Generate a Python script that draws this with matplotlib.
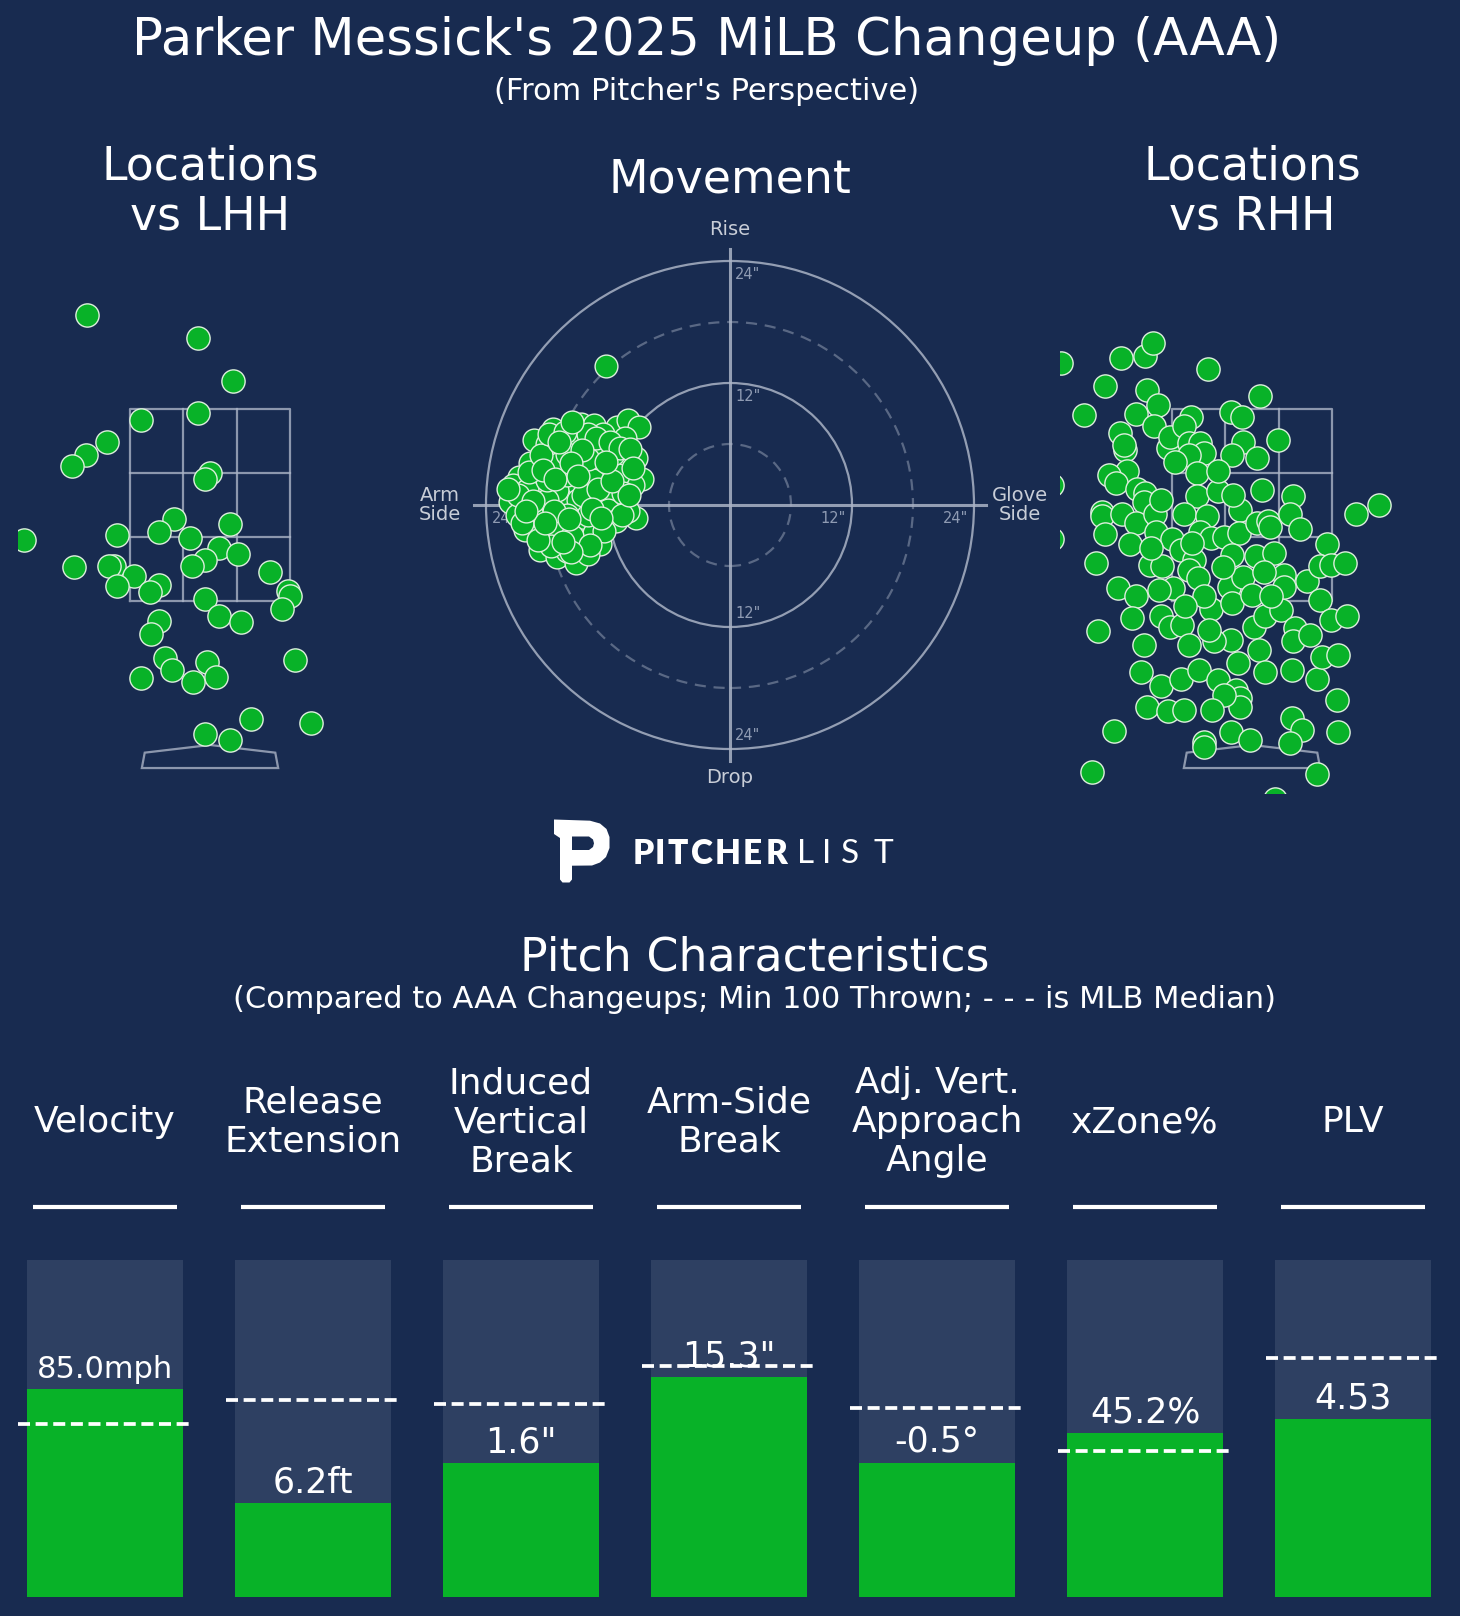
import matplotlib
matplotlib.use("Agg")
import matplotlib.pyplot as plt
from matplotlib.patches import Circle, Polygon

# ---------------- data ----------------
title = "Parker Messick's 2025 MiLB Changeup (AAA)"
subtitle = "(From Pitcher's Perspective)"

# pitch locations vs LHH (plate_x ft, plate_z ft)
lhh_x = [-1.28, -0.12, 0.24, -0.12, -0.72, -1.07, -1.29, -1.44, 0.00, -0.05,
         -1.94, -0.97, -0.38, -0.53, -0.21, 0.21, 0.09, 0.29, -0.05, -0.19,
         -1.42, -1.00, -1.05, -0.79, -0.97, -0.53, -0.62, 0.62, -0.05, 0.81,
         0.83, 0.75, 0.09, 0.32, -0.53, -0.61, -0.47, -0.40, -0.03, 0.06,
         -0.18, -0.72, 0.89, 0.43, 1.05, -0.05, 0.21]
lhh_z = [4.48, 4.24, 3.79, 3.46, 3.38, 3.15, 3.02, 2.90, 2.83, 2.77,
         2.13, 2.19, 2.35, 2.22, 2.16, 2.30, 2.05, 1.99, 1.93, 1.86,
         1.85, 1.86, 1.86, 1.76, 1.66, 1.67, 1.59, 1.80, 1.52, 1.60,
         1.55, 1.42, 1.34, 1.28, 1.29, 1.16, 0.91, 0.78, 0.86, 0.71,
         0.66, 0.70, 0.89, 0.27, 0.23, 0.11, 0.05]

# pitch locations vs RHH
rhh_x = [-1.99, -1.36, -1.11, -1.03, -0.46, -1.53, -1.09, -0.98, -1.75, -1.21,
         -1.02, 0.08, -0.22, -0.10, -0.64, -1.37, -1.32, -1.33, -0.87, -0.85,
         -0.71, -0.66, -0.54, -0.50, -0.66, -0.57, -0.09, -0.21, 0.05, 0.27,
         -1.30, -1.49, -1.42, -1.20, -1.11, -1.13, -1.56, -1.56, -1.35, -1.53,
         -1.21, -1.01, -1.00, -1.27, -1.63, -0.57, -0.35, -0.71, -0.47, -0.54,
         -0.43, -0.29, -0.12, -0.14, 0.05, 0.17, 0.19, 0.43, 0.40, 1.08,
         1.32, -0.83, -0.74, -0.60, -0.21, 0.04, 0.23, 0.33, 0.57, 0.78,
         0.71, 0.82, 0.97, -1.06, -0.94, -0.82, -0.66, -0.56, -0.97, -1.40,
         -1.21, -1.25, -0.95, -0.85, -0.73, -0.66, -0.43, -0.24, -0.21, -0.09,
         0.00, -0.22, -0.40, -0.45, 0.02, 0.07, 0.14, 0.30, 0.33, 0.45,
         0.43, 0.71, 0.82, 0.99, -1.60, -1.12, -1.16, -0.95, -0.74, -0.55,
         -0.35, -0.17, -0.12, -0.12, -0.29, 0.14, 0.42, 0.68, 0.73, 0.90,
         0.89, -1.09, -0.87, -0.71, -0.42, -0.22, -0.02, -0.50, -0.50, 0.42,
         0.52, 0.40, 0.90, -1.44, -1.67, 0.68, 0.24, -2.08, -2.08,
         -0.80, -0.35, -0.20, 0.10, -0.95, -0.62, -0.30, 0.12, 0.50, -1.05,
         -0.50, 0.20, -0.70, 0.60, -0.15]
rhh_z = [3.98, 4.03, 4.05, 4.19, 3.92, 3.74, 3.70, 3.54, 3.44, 3.45,
         3.32, 3.63, 3.47, 3.42, 3.42, 3.25, 3.07, 3.12, 3.09, 3.21,
         3.32, 3.14, 3.14, 3.04, 3.02, 2.83, 3.16, 3.02, 2.99, 3.18,
         2.85, 2.81, 2.73, 2.67, 2.62, 2.53, 2.43, 2.38, 2.41, 2.20,
         2.31, 2.41, 2.22, 2.09, 1.89, 2.59, 2.64, 2.40, 2.38, 2.22,
         2.15, 2.17, 2.45, 2.21, 2.31, 2.33, 2.27, 2.59, 2.40, 2.41,
         2.50, 2.14, 2.03, 1.93, 1.98, 1.97, 2.00, 1.77, 1.71, 2.09,
         1.86, 1.87, 1.89, 1.87, 1.86, 1.63, 1.82, 1.74, 1.61, 1.63,
         1.55, 1.32, 1.34, 1.23, 1.25, 1.04, 1.42, 1.65, 1.48, 1.75,
         1.56, 1.09, 1.08, 1.20, 1.23, 0.99, 1.34, 1.41, 1.65, 1.22,
         1.08, 1.51, 1.30, 1.34, 1.19, 1.04, 0.76, 0.61, 0.69, 0.78,
         0.68, 0.57, 0.49, 0.40, 0.52, 0.76, 0.78, 0.69, 0.92, 0.94,
         0.47, 0.40, 0.35, 0.36, 0.36, 0.14, 0.05, 0.03, -0.02, 0.28,
         0.16, 0.02, 0.13, 0.15, -0.28, -0.30, -0.56, 2.71, 2.14,
         2.95, 2.85, 2.60, 2.65, 2.55, 2.10, 1.85, 1.80, 2.25, 2.05,
         1.55, 1.55, 1.45, 1.15, 0.85]

# movement (horizontal break in, negative = arm side; induced vertical break in)
mov_hb = [-17.4, -14.7, -13.4, -11.1, -10.0, -9.0, -19.3, -10.3, -15.1, -12.6,
          -16.6, -17.9, -19.7, -9.2, -16.4, -12.8, -10.5, -14.7, -8.7, -20.8,
          -21.3, -9.5, -14.9, -12.8, -16.7, -19.0, -21.6, -20.0, -13.8, -11.1,
          -10.2, -9.2, -18.5, -15.2, -20.2, -13.1, -18.0, -16.6, -14.7, -12.8,
          -18.7, -17.0, -15.1, -13.4, -17.7, -12.2,
          -19.0, -17.0, -16.0, -15.0, -14.0, -16.0, -18.0, -12.0, -11.0, -13.0,
          -15.0, -17.0, -19.0, -16.0, -14.0, -12.0, -20.0, -21.0, -18.0, -13.5,
          -11.5, -10.5, -17.5, -15.5, -14.0, -16.0, -18.0, -12.5, -14.0, -19.5,
          -20.5, -19.8, -18.6, -17.8, -16.2, -15.5, -13.2, -11.8, -10.8, -9.8,
          -9.5, -10.0, -11.2, -12.4, -13.8, -15.6, -17.6, -18.9, -20.9, -21.8,
          -19.4, -17.3, -15.8, -14.5, -13.0, -11.6, -12.2, -14.6, -16.8, -18.4,
          -17.2, -15.6, -13.6, -16.4, -18.2, -20.1, -15.0, -10.6, -9.9, -12.7]
mov_ivb = [7.5, 8.0, 7.9, 7.7, 8.4, 7.7, 6.4, 6.6, 5.7, 6.1,
           5.7, 4.8, 4.1, 4.6, 3.9, 3.8, 3.4, 3.8, 2.6, 2.8,
           2.0, 2.0, 1.7, 1.8, 0.7, 1.3, 0.3, 0.0, 0.2, -0.2,
           0.5, -1.3, -0.8, -2.0, -2.5, -2.0, -3.1, -2.8, -3.4, -3.8,
           -4.4, -5.1, -5.7, -2.8, -1.5, 13.7,
           2.0, 1.5, 3.0, 0.5, -1.0, -1.0, 0.5, 1.0, 3.0, 5.0,
           6.5, 4.0, -2.0, -4.5, -4.8, -0.5, 1.5, -1.0, 2.5, 2.5,
           5.0, 1.2, -2.2, -3.0, 4.5, 5.0, 6.0, 7.0, 7.0, -1.0,
           -1.8, 3.2, 4.9, 7.0, 7.2, 8.2, 6.6, 6.2, 5.6, 5.5,
           3.6, -0.6, -1.6, -2.6, -3.9, -4.6, -4.0, -3.4, 1.0, 1.6,
           0.4, -0.6, -1.4, 1.0, 1.6, 2.4, 4.2, 5.4, 6.2, 3.4,
           2.6, 4.1, -0.4, -3.6, -1.8, -0.6, 2.9, -1.0, 1.0, -1.3]

# pitch characteristics
metric_names = ["Velocity", "Release\nExtension", "Induced\nVertical\nBreak",
                "Arm-Side\nBreak", "Adj. Vert.\nApproach\nAngle", "xZone%", "PLV"]
metric_labels = ["85.0mph", "6.2ft", "1.6\"", "15.3\"", "-0.5°", "45.2%", "4.53"]
metric_pct = [0.617, 0.279, 0.398, 0.653, 0.399, 0.487, 0.528]
median_pct = [0.513, 0.585, 0.573, 0.685, 0.561, 0.434, 0.710]

# ---------------- style ----------------
BG = "#182b50"
BARBG = "#2e4062"
GREEN = "#08b228"
EDGE = "#dcefdc"
LINE = "#aab3c5"
LABEL = "#c8cdd7"
TICK = "#8f9bb3"

W, H = 1460, 1616
fig = plt.figure(figsize=(W / 100, H / 100), dpi=100, facecolor=BG)


def px_axes(x0, y0, x1, y1):
    ax = fig.add_axes([x0 / W, 1 - y1 / H, (x1 - x0) / W, (y1 - y0) / H])
    ax.set_facecolor("none")
    ax.axis("off")
    return ax


fig.text(707 / W, 1 - 41 / H, title, ha="center", va="center", color="white", fontsize=37)
fig.text(707 / W, 1 - 91 / H, subtitle, ha="center", va="center", color="white", fontsize=22)


def draw_zone(ax):
    zx = [-0.83, 0.83, 0.83, -0.83, -0.83]
    zz = [1.5, 1.5, 3.5, 3.5, 1.5]
    ax.plot(zx, zz, color=LINE, lw=1.6, alpha=0.8, zorder=1)
    for gx in (-0.277, 0.277):
        ax.plot([gx, gx], [1.5, 3.5], color=LINE, lw=1.6, alpha=0.8, zorder=1)
    for gz in (2.167, 2.833):
        ax.plot([-0.83, 0.83], [gz, gz], color=LINE, lw=1.6, alpha=0.8, zorder=1)
    plate = Polygon([(-0.71, -0.24), (0.71, -0.24), (0.68, -0.08), (0.0, 0.0), (-0.68, -0.08)],
                    closed=True, fill=False, ec=LINE, lw=1.6, alpha=0.8, zorder=1)
    ax.add_patch(plate)


for (x0, px, pz, lab) in [(18, lhh_x, lhh_z, "Locations\nvs LHH"),
                          (1060, rhh_x, rhh_z, "Locations\nvs RHH")]:
    ax = px_axes(x0, 284, x0 + 384, 793)
    ax.set_xlim(-2, 2)
    ax.set_ylim(-0.5, 4.8)
    draw_zone(ax)
    ax.scatter(px, pz, s=280, color=GREEN, edgecolors=EDGE, linewidths=1.0, zorder=3)
    fig.text((x0 + 192) / W, 1 - 192 / H, lab, ha="center", va="center",
             color="white", fontsize=33, linespacing=1.17)

# movement plot
axm = px_axes(425, 200, 1035, 810)
axm.set_xlim(-30, 30)
axm.set_ylim(-30, 30)
for r, ls in [(6, "--"), (12, "-"), (18, "--"), (24, "-")]:
    if ls == "-":
        c = Circle((0, 0), r, fill=False, ec=LINE, lw=1.6, alpha=0.85, zorder=1)
    else:
        c = Circle((0, 0), r, fill=False, ec=LINE, lw=1.6, alpha=0.45, ls=(0, (5, 3.5)), zorder=1)
    axm.add_patch(c)
axm.plot([-25.2, 25.2], [0, 0], color=LINE, lw=2.2, alpha=0.85, zorder=1)
axm.plot([0, 0], [-25.2, 25.2], color=LINE, lw=2.2, alpha=0.85, zorder=1)
for r in (12, 24):
    lab = f'{r}"'
    axm.text(0.5, r - 0.6, lab, ha="left", va="top", color=TICK, fontsize=10.5, zorder=2)
    axm.text(0.5, -r + 0.6, lab, ha="left", va="bottom", color=TICK, fontsize=10.5, zorder=2)
    axm.text(r - 0.6, -0.6, lab, ha="right", va="top", color=TICK, fontsize=10.5, zorder=2)
    axm.text(-r + 0.6, -0.6, lab, ha="left", va="top", color=TICK, fontsize=10.5, zorder=2)
axm.text(0, 27.1, "Rise", ha="center", va="center", color=LABEL, fontsize=14)
axm.text(0, -26.8, "Drop", ha="center", va="center", color=LABEL, fontsize=14)
axm.text(-28.5, 0, "Arm\nSide", ha="center", va="center", color=LABEL, fontsize=14, linespacing=1.0)
axm.text(28.5, 0, "Glove\nSide", ha="center", va="center", color=LABEL, fontsize=14, linespacing=1.0)
axm.scatter(mov_hb, mov_ivb, s=270, color=GREEN, edgecolors=EDGE, linewidths=1.0, zorder=3)
fig.text(730 / W, 1 - 180 / H, "Movement", ha="center", va="center", color="white", fontsize=33)

# logo
axl = px_axes(540, 805, 920, 895)
axl.set_xlim(540, 920)
axl.set_ylim(895, 805)
outer = [(554, 819.5), (590, 820.7), (600, 823.5), (606.5, 829), (609.5, 837), (609.5, 848),
         (606, 857), (600, 862.5), (592, 865.5), (572, 865.7), (572, 879.5), (569.5, 882.5),
         (562.5, 882.5), (560, 879.5), (560, 838), (554, 834)]
axl.add_patch(Polygon(outer, closed=True, fc="white", ec="none"))
counter = [(572, 836.5), (589, 836.5), (593, 839.5), (594, 843.3), (593, 847), (589, 850), (572, 850)]
axl.add_patch(Polygon(counter, closed=True, fc=BG, ec="none"))
for ch, cx in zip("PITCHER", [643, 660, 678, 702, 728, 752, 777]):
    axl.text(cx, 854, ch, ha="center", va="center", color="white", fontsize=24,
             family="Lato", fontweight="heavy")
for ch, cx in zip("LIST", [806, 827, 850, 883]):
    axl.text(cx, 854, ch, ha="center", va="center", color="white", fontsize=24,
             family="Lato", fontweight="normal")

# pitch characteristics
fig.text(755 / W, 1 - 958 / H, "Pitch Characteristics", ha="center", va="center",
         color="white", fontsize=33)
fig.text(755 / W, 1 - 1000 / H,
         "(Compared to AAA Changeups; Min 100 Thrown; - - - is MLB Median)",
         ha="center", va="center", color="white", fontsize=22)

axb = px_axes(1, 1030, 1457, 1597)
axb.set_xlim(-0.5, 6.5)
axb.set_ylim(0, 567 / 337)
xs = list(range(len(metric_names)))
axb.bar(xs, [1.0] * len(xs), width=0.75, color=BARBG, zorder=1)
axb.bar(xs, metric_pct, width=0.75, color=GREEN, zorder=2)
for i in xs:
    axb.hlines(median_pct[i], i - 0.42, i + 0.42, colors="white", lw=2.7,
               linestyles=(0, (3.2, 1.5)), zorder=4)
    fs = 22 if len(metric_labels[i]) > 5 else 25
    axb.text(i, metric_pct[i] + 0.032, metric_labels[i], ha="center", va="baseline",
             color="white", fontsize=fs, zorder=3)
    axb.text(i, 1.409, metric_names[i], ha="center", va="center", color="white",
             fontsize=26, linespacing=1.18)
    axb.hlines(1.157, i - 0.344, i + 0.344, colors="white", lw=3)

fig.savefig("out.png", dpi=100, facecolor=BG)
